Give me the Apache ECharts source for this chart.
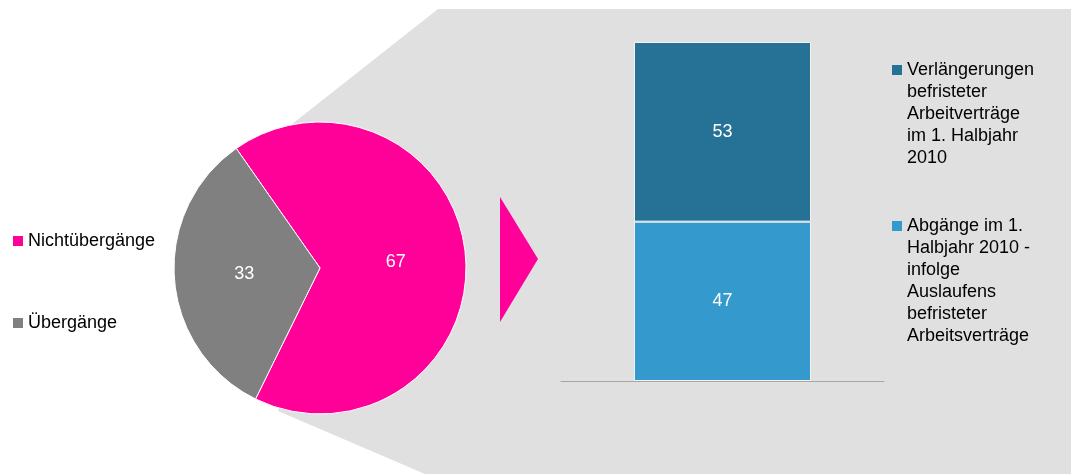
<!DOCTYPE html>
<html>
<head>
<meta charset="utf-8">
<script src="https://cdn.jsdelivr.net/npm/echarts@6/dist/echarts.min.js"></script>
<style>
  html, body { margin: 0; padding: 0; background: #fff; }
  #chart { width: 1071px; height: 474px; }
</style>
</head>
<body>
<div id="chart"></div>
<script>
// pie: share of transitions
const pieNames = ['Nichtübergänge', 'Übergänge'];
const pieValues = [67, 33];

// stacked bar: breakdown
const barCategories = ['1. Halbjahr 2010'];
const barNames = ['Abgänge', 'Verlängerungen'];
const abgaenge = [47];
const verlaengerungen = [53];
const legendLines = {
    'Verlängerungen': ['Verlängerungen', 'befristeter', 'Arbeitverträge', 'im 1. Halbjahr', '2010'],
    'Abgänge': ['Abgänge im 1.', 'Halbjahr 2010 -', 'infolge', 'Auslaufens', 'befristeter', 'Arbeitsverträge']
};

const font = "'Liberation Sans', Arial, sans-serif";
const lh = 22;

const chart = echarts.init(document.getElementById('chart'));

// legend text is centred on the icon, so pad with empty lines above
// to keep the icon next to the first line
const barLegend = (name, bottom) => ({
    orient: 'vertical',
    left: 892,
    bottom,
    padding: 0,
    icon: 'rect',
    itemWidth: 10,
    itemHeight: 10,
    itemStyle: { borderWidth: 0 },
    selectedMode: false,
    data: [name],
    formatter: n => {
        const lines = legendLines[n];
        return new Array(lines.length - 1).fill('').concat(lines).join('\n');
    },
    textStyle: { fontFamily: font, fontSize: 18, color: '#000', lineHeight: lh }
});

chart.setOption({
    animation: false,
    textStyle: { fontFamily: font },
    graphic: [
        {
            type: 'polygon',
            z: -10,
            shape: { points: [[438, 9], [1071, 9], [1071, 474], [425, 474], [278, 411], [320, 268], [282, 132]] },
            style: { fill: '#e0e0e0' }
        },
        {
            type: 'polygon',
            z: -5,
            shape: { points: [[500, 197], [538, 259], [500, 322]] },
            style: { fill: '#ff0099' }
        }
    ],
    legend: [
        {
            orient: 'vertical',
            left: 13,
            top: 232,
            padding: 0,
            itemGap: 64,
            icon: 'rect',
            itemWidth: 10,
            itemHeight: 10,
            itemStyle: { borderWidth: 0 },
            selectedMode: false,
            data: pieNames,
            textStyle: { fontFamily: font, fontSize: 18, color: '#000' }
        },
        barLegend('Verlängerungen', 305),
        barLegend('Abgänge', 127)
    ],
    grid: { left: 561, right: 187, top: 42, bottom: 93 },
    xAxis: {
        type: 'category',
        data: barCategories,
        axisLine: { lineStyle: { color: '#a6a6a6', width: 1 } },
        axisTick: { show: false },
        axisLabel: { show: false }
    },
    yAxis: {
        type: 'value',
        min: 0,
        max: 100,
        show: false,
        splitLine: { show: false }
    },
    series: [
        {
            type: 'pie',
            center: [320, 268],
            radius: 146,
            startAngle: 125,
            color: ['#ff0099', '#808080'],
            itemStyle: { borderColor: '#fff', borderWidth: 1 },
            label: { show: true, position: 'inside', formatter: '{c}', color: '#fff', fontSize: 18, fontFamily: font },
            labelLine: { show: false },
            data: pieNames.map((n, i) => ({ name: n, value: pieValues[i] }))
        },
        {
            type: 'bar',
            name: barNames[0],
            stack: 'total',
            data: abgaenge,
            barWidth: 177,
            itemStyle: { color: '#3499cc', borderColor: '#f2f2f2', borderWidth: 1 },
            label: { show: true, position: 'inside', color: '#fff', fontSize: 18, fontFamily: font }
        },
        {
            type: 'bar',
            name: barNames[1],
            stack: 'total',
            data: verlaengerungen,
            barWidth: 177,
            itemStyle: { color: '#267196', borderColor: '#f2f2f2', borderWidth: 1 },
            label: { show: true, position: 'inside', color: '#fff', fontSize: 18, fontFamily: font }
        }
    ]
});
</script>
</body>
</html>
